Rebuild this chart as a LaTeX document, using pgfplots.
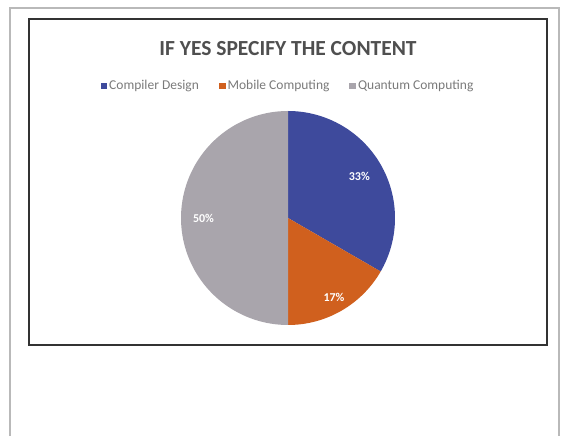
\documentclass[border=0pt]{standalone}
\usepackage{fontspec}
\setmainfont{Carlito}
\usepackage{pgfplots}
\usepackage{pgfplotstable}
\pgfplotsset{compat=1.18}
\definecolor{cblue}{HTML}{3E4A9C}
\definecolor{corange}{HTML}{D0601E}
\definecolor{cgray}{HTML}{A9A5AC}
\definecolor{titlegray}{HTML}{4F4F4F}
\definecolor{leggray}{HTML}{7A7A7A}

\pgfplotstableread{
label value
{Compiler Design} 2
{Mobile Computing} 1
{Quantum Computing} 3
}\piedata

\begin{document}
\begin{tikzpicture}[x=1pt,y=1pt]
\useasboundingbox (0,0) rectangle (561,436);
\draw[gray!55, line width=1.1pt] (10,0) -- (10,428) -- (559,428) -- (559,0);
\draw[black!80, line width=1.3pt] (29,91) rectangle (547,417);
\node[font=\fontsize{21.5}{24}\selectfont\bfseries, text=titlegray] at (288,387) {IF YES SPECIFY THE CONTENT};

\pgfplotstablegetelem{0}{value}\of\piedata \let\va\pgfplotsretval
\pgfplotstablegetelem{1}{value}\of\piedata \let\vb\pgfplotsretval
\pgfplotstablegetelem{2}{value}\of\piedata \let\vc\pgfplotsretval
\pgfmathsetmacro\tot{\va+\vb+\vc}
\pgfmathsetmacro\aA{90}
\pgfmathsetmacro\aB{90-360*\va/\tot}
\pgfmathsetmacro\aC{\aB-360*\vb/\tot}
\pgfmathsetmacro\aD{\aC-360*\vc/\tot}
\pgfmathsetmacro\mA{(\aA+\aB)/2}
\pgfmathsetmacro\mB{(\aB+\aC)/2}
\pgfmathsetmacro\mC{(\aC+\aD)/2}
\pgfmathsetmacro\pA{round(100*\va/\tot)}
\pgfmathsetmacro\pB{round(100*\vb/\tot)}
\pgfmathsetmacro\pC{round(100*\vc/\tot)}

\begin{axis}[
  at={(288pt,218pt)}, anchor=center,
  width=214pt, height=214pt, scale only axis,
  xmin=-1, xmax=1, ymin=-1, ymax=1,
  hide axis, clip=false,
  legend columns=3,
  legend image code/.code={\fill[#1] (-1pt,-3.3pt) rectangle (5.6pt,3.3pt);},
  legend style={at={(0.5,1.117)}, anchor=center, draw=none, fill=none,
    font=\fontsize{13.5}{16}\selectfont, text=leggray,
    /tikz/every even column/.append style={column sep=18pt}},
]
\addplot[fill=cblue, draw=none, domain=\aB:\aA, samples=120] ({cos(x)},{sin(x)}) -- (0,0) -- cycle;
\addlegendentry{Compiler Design}
\addplot[fill=corange, draw=none, domain=\aC:\aB, samples=80] ({cos(x)},{sin(x)}) -- (0,0) -- cycle;
\addlegendentry{Mobile Computing}
\addplot[fill=cgray, draw=none, domain=\aD:\aC, samples=160] ({cos(x)},{sin(x)}) -- (0,0) -- cycle;
\addlegendentry{Quantum Computing}
\node[text=white, font=\fontsize{12}{14}\selectfont\bfseries] at (axis cs:{0.77*cos(\mA)},{0.77*sin(\mA)}) {\pgfmathprintnumber[fixed,precision=0,assume math mode=true]{\pA}\%};
\node[text=white, font=\fontsize{12}{14}\selectfont\bfseries] at (axis cs:{0.86*cos(\mB)},{0.86*sin(\mB)}) {\pgfmathprintnumber[fixed,precision=0,assume math mode=true]{\pB}\%};
\node[text=white, font=\fontsize{12}{14}\selectfont\bfseries] at (axis cs:{0.79*cos(\mC)},{0.79*sin(\mC)}) {\pgfmathprintnumber[fixed,precision=0,assume math mode=true]{\pC}\%};
\end{axis}
\end{tikzpicture}
\end{document}
